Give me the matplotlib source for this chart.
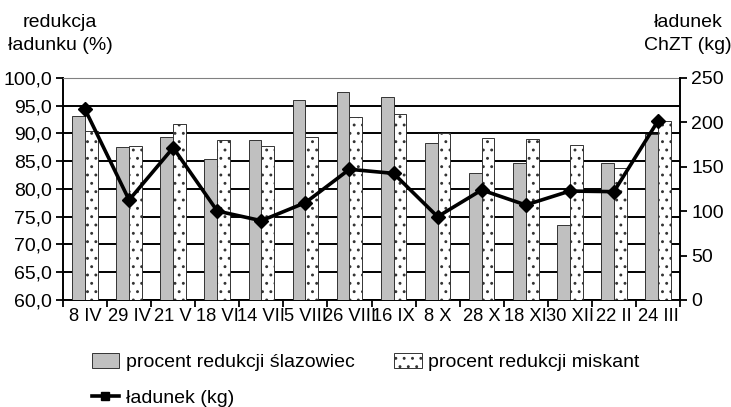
import numpy as np
import matplotlib
matplotlib.use('Agg')
import matplotlib.pyplot as plt
from matplotlib.patches import Patch
from matplotlib.lines import Line2D

plt.rcParams['font.family'] = ['Liberation Sans', 'DejaVu Sans']
plt.rcParams['hatch.linewidth'] = 0.9

dates = ['8 IV', '29 IV', '21 V', '18 VI', '14 VII', '5 VIII', '26 VIII',
         '16 IX', '8 X', '28 X', '18 XI', '30 XII', '22 II', '24 III']
slazowiec = [93.2, 87.5, 89.4, 85.4, 88.8, 96.1, 97.5,
             96.5, 88.2, 82.8, 84.6, 73.5, 84.6, 89.9]
miskant = [90.4, 87.8, 91.8, 88.8, 87.8, 89.4, 93.0,
           93.5, 90.1, 89.2, 89.0, 88.0, 83.7, 92.3]
ladunek = [214.7, 112.6, 171.5, 100.2, 89.3, 109.6, 147.2,
           142.6, 93.8, 123.9, 107.0, 122.7, 122.0, 201.6]

fs = 14
fig = plt.figure(figsize=(7.31, 4.07), dpi=100)
ax = fig.add_axes([63 / 731, 1 - 300 / 407, (680 - 63) / 731, (300 - 78) / 407])
ax2 = ax.twinx()

x = np.arange(len(dates))
w = 0.29
ax.bar(x - w / 2, slazowiec, w, color='#c0c0c0', edgecolor='#333333',
       linewidth=0.7, zorder=3)
ax.bar(x + w / 2, miskant, w, color='white', edgecolor='#333333', hatch='..',
       linewidth=0.7, zorder=3)

ax.set_ylim(60, 100)
ax.set_xlim(-0.5, len(dates) - 0.5)
yt = np.arange(60, 101, 5)
ax.set_yticks(yt)
ax.set_yticklabels([('%.1f' % v).replace('.', ',') for v in yt], fontsize=fs)
ax.yaxis.grid(True, color='black', linewidth=1.4, zorder=0)
ax.set_axisbelow(True)
ax.set_xticks(x)
ax.set_xticklabels(dates, fontsize=13.2)
ax.tick_params(axis='x', which='major', length=0, pad=6)
ax.set_xticks(np.arange(-0.5, len(dates), 1), minor=True)
ax.tick_params(axis='x', which='minor', length=5, width=1.3, direction='out')
ax.tick_params(axis='y', length=5, width=1.3, direction='out', pad=3)
for s in ['left', 'bottom']:
    ax.spines[s].set_linewidth(1.4)
ax.spines['top'].set_color('#808080')
ax.spines['right'].set_visible(False)

ax2.plot(x, ladunek, color='black', linewidth=2.6, marker='D', markersize=7,
         zorder=5)
ax2.set_ylim(0, 250)
ax2.set_yticks(np.arange(0, 251, 50))
ax2.tick_params(axis='y', labelsize=fs, length=5, width=1.3, direction='out', pad=3)
ax2.spines['right'].set_linewidth(1.4)
for s in ['left', 'bottom', 'top']:
    ax2.spines[s].set_visible(False)

fig.text(60 / 731, 1 - 14 / 407, 'redukcja\nładunku (%)', ha='center', va='top',
         fontsize=fs, linespacing=1.45)
fig.text(688 / 731, 1 - 14 / 407, 'ładunek\nChZT (kg)', ha='center', va='top',
         fontsize=fs, linespacing=1.45)

h1 = Patch(facecolor='#c0c0c0', edgecolor='#333333', linewidth=0.7)
h2 = Patch(facecolor='white', edgecolor='#333333', hatch='..', linewidth=0.7)
h3 = Line2D([], [], color='black', linewidth=2.6, marker='s', markersize=6)
fig.legend([h1, h3, h2],
           ['procent redukcji ślazowiec', 'ładunek (kg)', 'procent redukcji miskant'],
           ncol=2, frameon=False, fontsize=fs, loc='upper left',
           bbox_to_anchor=(82 / 731, 1 - 343 / 407), handlelength=1.4,
           handleheight=0.8, handletextpad=0.35, columnspacing=2.05,
           labelspacing=0.9, borderpad=0)

fig.savefig('out.png', dpi=100)
